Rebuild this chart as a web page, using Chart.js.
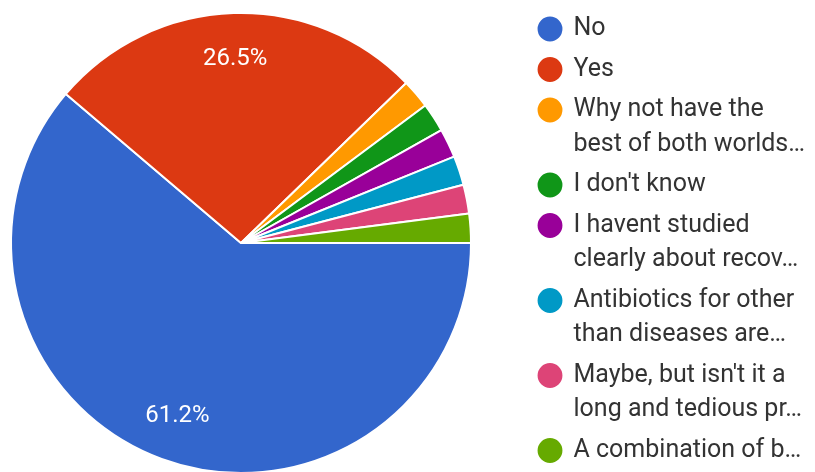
<!DOCTYPE html>
<html>
<head>
<meta charset="utf-8">
<script src="https://cdn.jsdelivr.net/npm/chart.js@4"></script>
<style>
  html, body { margin: 0; padding: 0; background: #fff; overflow: hidden; }
  #caja { position: relative; width: 815px; height: 490px; }
</style>
</head>
<body>
<div id="caja"><canvas id="pastelCanvas"></canvas></div>
<script>
// respuestas de la encuesta
const etiquetas = [
    ['No'],
    ['Yes'],
    ['Why not have the', 'best of both worlds…'],
    ["I don't know"],
    ['I havent studied', 'clearly about recov…'],
    ['Antibiotics for other', 'than diseases are…'],
    ["Maybe, but isn't it a", 'long and tedious pr…'],
    ['A combination of b…']
];
const respuestas = [30, 13, 1, 1, 1, 1, 1, 1];
const colores = ['#3366cc', '#dc3912', '#ff9900', '#109618', '#990099', '#0099c6', '#dd4477', '#66aa00'];

// area del pastel (la leyenda va aparte a la derecha)
const areaPastel = {
    id: 'areaPastel',
    afterLayout(chart) {
        const a = chart.chartArea;
        a.left = 10;
        a.right = 472;
        a.top = 12;
        a.bottom = 474;
        a.width = a.right - a.left;
        a.height = a.bottom - a.top;
    }
};

// porcentajes dentro del pastel
const etiquetasPorcentaje = {
    id: 'etiquetasPorcentaje',
    afterDatasetsDraw(chart) {
        const ctx = chart.ctx;
        const meta = chart.getDatasetMeta(0);
        const total = respuestas.reduce((a, b) => a + b, 0);
        ctx.save();
        ctx.font = '24px Roboto';
        ctx.fillStyle = '#ffffff';
        ctx.textAlign = 'center';
        ctx.textBaseline = 'middle';
        meta.data.forEach((arco, i) => {
            const porcentaje = respuestas[i] / total * 100;
            if (porcentaje < 5) return;
            const p = arco.getProps(['x', 'y', 'startAngle', 'endAngle', 'outerRadius'], true);
            const medio = (p.startAngle + p.endAngle) / 2;
            const r = p.outerRadius * 0.8;
            ctx.fillText(porcentaje.toFixed(1) + '%', p.x + Math.cos(medio) * r, p.y + Math.sin(medio) * r);
        });
        ctx.restore();
    }
};

const ctx = document.getElementById('pastelCanvas').getContext('2d');

const config = {
    type: 'pie',
    data: {
        labels: etiquetas,
        datasets: [{
            data: respuestas,
            backgroundColor: colores,
            borderColor: '#ffffff',
            borderWidth: 2,
            hoverOffset: 0,
            clip: false
        }]
    },
    options: {
        responsive: true,
        maintainAspectRatio: false,
        animation: false,
        rotation: 90,
        layout: { padding: { top: 10.5, right: 0, bottom: 0, left: 0 } },
        plugins: {
            tooltip: { enabled: false },
            legend: {
                position: 'right',
                align: 'start',
                labels: {
                    usePointStyle: true,
                    pointStyle: 'circle',
                    boxWidth: 22,
                    boxHeight: 19,
                    padding: 6,
                    color: '#333333',
                    font: { family: 'Roboto', size: 25, lineHeight: 1.38 }
                }
            }
        }
    },
    plugins: [areaPastel, etiquetasPorcentaje]
};

const miPastel = new Chart(ctx, config);
</script>
</body>
</html>
